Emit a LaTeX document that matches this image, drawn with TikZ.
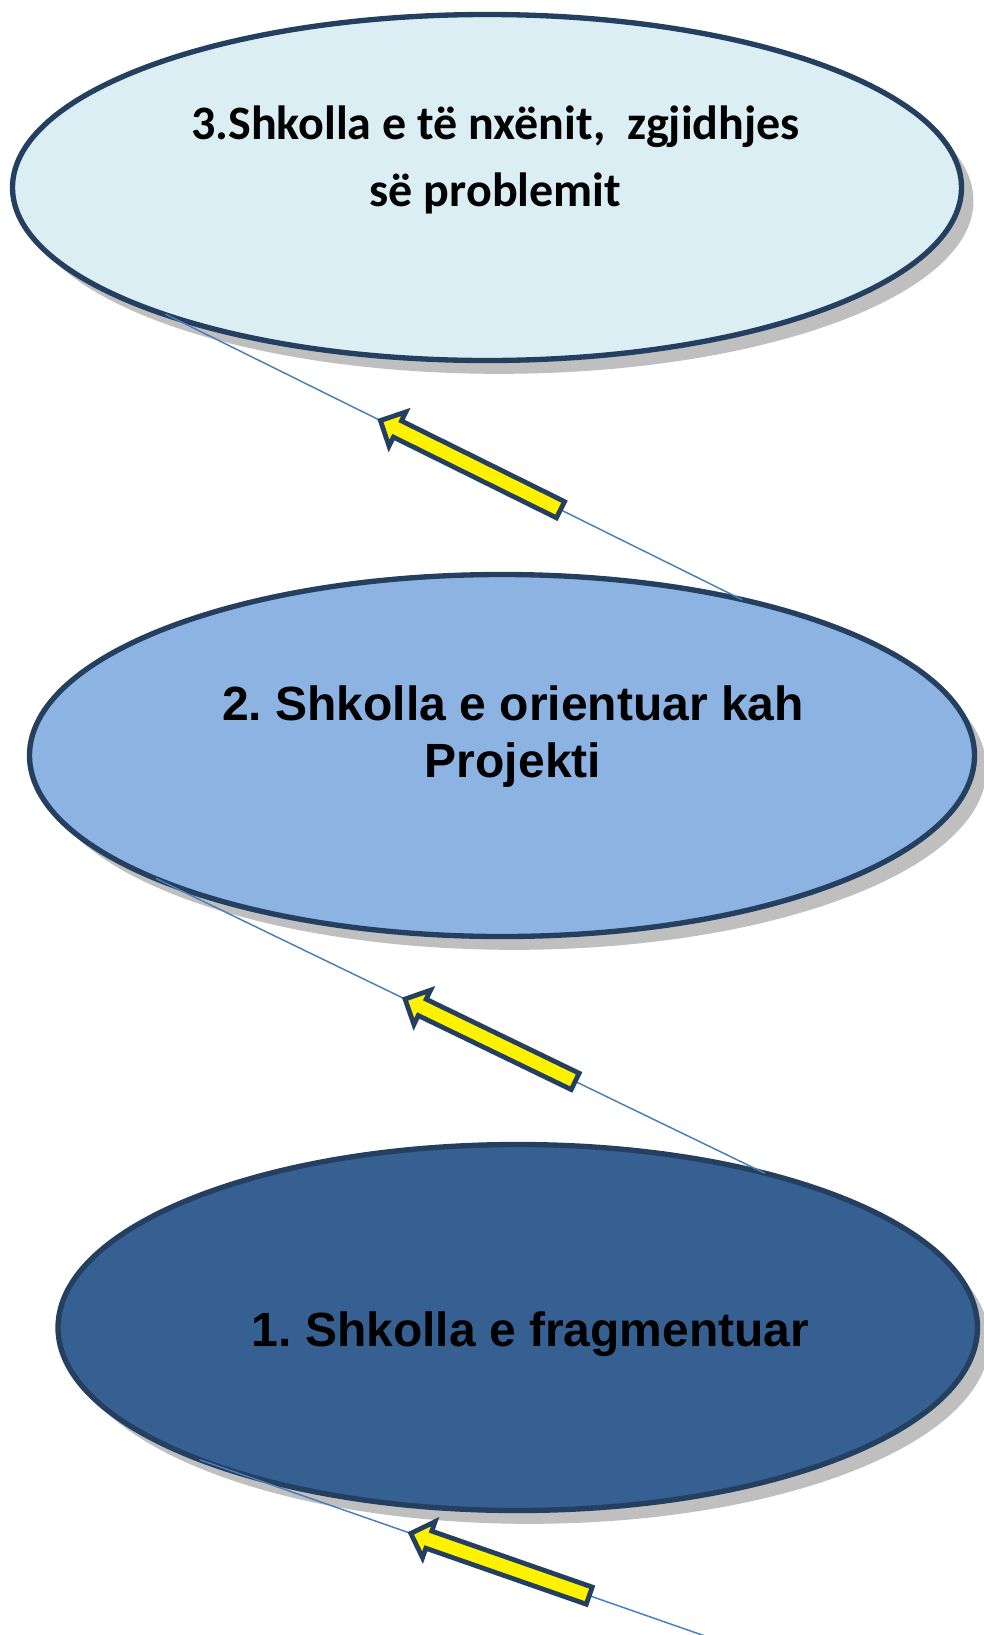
\documentclass[tikz,border=0pt]{standalone}
\usepackage{fontspec}
\setmainfont{Carlito}
\newfontfamily\arialfont{Liberation Sans}
\usetikzlibrary{shapes.geometric, shapes.arrows, shadows, positioning}
\definecolor{outlineblue}{RGB}{36, 63, 96}
\definecolor{paleblue}{RGB}{218, 238, 243}
\definecolor{midblue}{RGB}{141, 179, 226}
\definecolor{deepblue}{RGB}{54, 96, 146}
\definecolor{linkblue}{RGB}{74, 126, 187}
\definecolor{shadowgray}{RGB}{191, 191, 191}
\frenchspacing

\begin{document}
\begin{tikzpicture}[x=0.75pt, y=-0.75pt,
  school/.style={ellipse, draw=outlineblue, line width=4pt, inner sep=0pt, outer sep=0pt,
    drop shadow={shadow xshift=9pt, shadow yshift=-10pt, fill=shadowgray, opacity=1}},
  link/.style={draw=linkblue, line width=1.1pt, shorten <=-3pt},
  yarrow/.style={single arrow, draw=outlineblue, fill=yellow, line width=3.6pt, inner sep=5pt,
    single arrow head extend=7.5pt, shape border rotate=180, sloped}
]
  \useasboundingbox (0,0) rectangle (984,1635);

  % School ellipses
  \node[school, fill=paleblue, minimum width=711.75pt, minimum height=259.5pt] (shk3) at (487, 187.5) {};
  \node[school, fill=midblue, minimum width=708.75pt, minimum height=271.5pt] (shk2) at (502, 755.5) {};
  \node[school, fill=deepblue, minimum width=689.6pt, minimum height=274.5pt] (shk1) at (517.75, 1327.5) {};

  % Labels
  \node[font=\fontsize{36}{50}\selectfont\bfseries, align=center] (lbl3) at (495.5, 160) {3.Shkolla e të nxënit,~ zgjidhjes\\së problemit};
  \node[font=\arialfont\fontsize{36}{42.75}\selectfont\bfseries, align=center] (lbl2) at (513, 737) {2. Shkolla e orientuar kah\\Projekti};
  \node[font=\arialfont\fontsize{36}{43}\selectfont\bfseries] (lbl1) at (530.5, 1334.5) {1. Shkolla e fragmentuar};

  % Connectors with yellow arrows
  \draw[link] (shk3.202) -- node[yarrow, pos=0.533, minimum height=150.75pt] (arr3) {} (shk2.33);
  \draw[link] (shk2.200) -- node[yarrow, pos=0.553, minimum height=141.75pt] (arr2) {} (shk1.32);
  \coordinate (end1) at (705, 1636);
  \draw[link] (shk1.203) -- node[yarrow, pos=0.600, minimum height=141.75pt] (arr1) {} (end1);
\end{tikzpicture}
\end{document}
